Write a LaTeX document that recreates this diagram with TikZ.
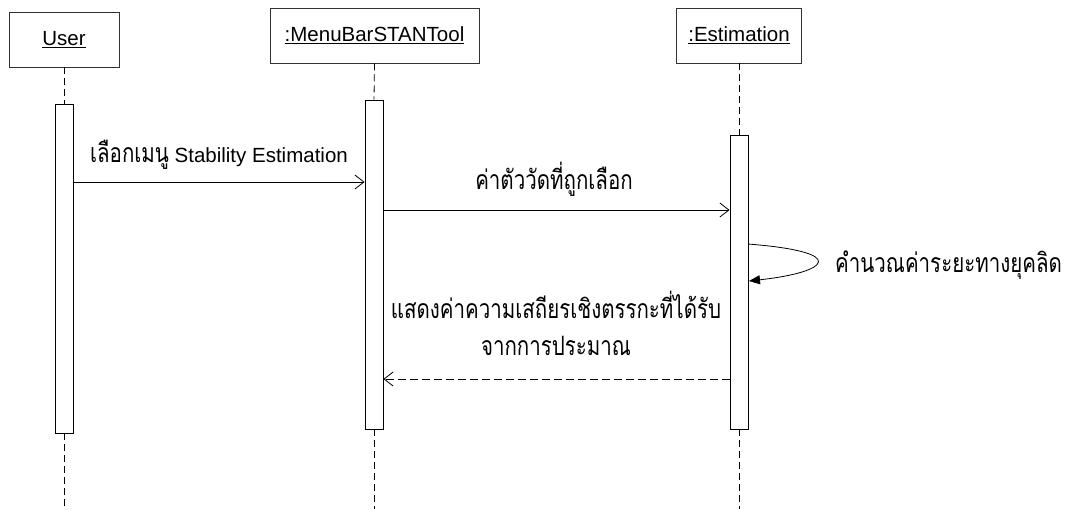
\documentclass[tikz,border=0pt]{standalone}
\usepackage{fontspec}
\setmainfont{Liberation Sans}
\newfontfamily\thai[Script=Thai]{Loma}
\newcommand{\thaitall}[1]{\scalebox{1}[1.3]{\thai #1}}
\usetikzlibrary{arrows.meta}
\begin{document}
\begin{tikzpicture}[x=1pt,y=-1pt,
  objbox/.style={draw=black!80,line width=0.9pt,fill=white,inner sep=0pt,font=\fontsize{20.5}{24}\selectfont},
  actbar/.style={draw,line width=0.9pt,fill=white,inner sep=0pt,minimum width=18pt},
  lifeline/.style={line width=0.8pt,dash pattern=on 7pt off 4pt},
  msg/.style={line width=0.8pt,-{Straight Barb[length=9pt,width=14pt,line width=0.8pt]}},
  retmsg/.style={msg,dash pattern=on 8pt off 4pt},
  selfmsg/.style={line width=0.8pt,-{Triangle[length=11pt,width=9pt]}},
  lbl/.style={inner sep=0pt,anchor=base,font=\fontsize{20.5}{24}\selectfont},
  thlbl/.style={inner sep=0pt,anchor=base,font=\thai\fontsize{20.5}{24}\selectfont}]
\useasboundingbox (0,0) rectangle (1071,509);
% objects
\node[objbox,minimum width=110pt,minimum height=55pt] (user) at (64,39.5) {\underline{User}};
\node[objbox,minimum width=209pt,minimum height=55pt] (menu) at (374.5,35.5) {\underline{:MenuBarSTANTool}};
\node[objbox,minimum width=125pt,minimum height=55pt] (est) at (739,35.5) {\underline{:Estimation}};
% activation bars
\node[actbar,minimum height=329pt] (ua) at (64,268.5) {};
\node[actbar,minimum height=329pt] (ma) at (374,264.5) {};
\node[actbar,minimum height=294pt] (ea) at (739,282) {};
% lifelines
\coordinate (uend) at (64,509);
\coordinate (mend) at (374,509);
\coordinate (eend) at (739,509);
\draw[lifeline] (user.south) -- (ua.north);
\draw[lifeline] (ua.south) -- (uend);
\draw[lifeline] (menu.south) -- (ma.north);
\draw[lifeline] (ma.south) -- (mend);
\draw[lifeline] (est.south) -- (ea.north);
\draw[lifeline] (ea.south) -- (eend);
% messages
\coordinate (y1) at (0,182);
\coordinate (y2) at (0,210);
\coordinate (y3) at (0,379);
\draw[msg] (ua.east |- y1) -- (ma.west |- y1);
\node[lbl] (l1) at (219,162) {\thaitall{เลือกเมนู} Stability Estimation};
\draw[msg] (ma.east |- y2) -- (ea.west |- y2);
\node[thlbl] (l2) at (554,189) {\thaitall{ค่าตัววัดที่ถูกเลือก}};
\coordinate (s1) at (748,244);
\coordinate (s2) at (749,281);
\draw[selfmsg] (s1) .. controls (850,252) and (830,272) .. (s2);
\node[thlbl,anchor=base west] (l3) at (835,272) {\thaitall{คำนวณค่าระยะทางยุคลิด}};
\draw[retmsg] (ea.west |- y3) -- (ma.east |- y3);
\node[thlbl] (l4) at (556,318) {\thaitall{แสดงค่าความเสถียรเชิงตรรกะที่ได้รับ}};
\node[thlbl] (l5) at (556,355) {\thaitall{จากการประมาณ}};
\end{tikzpicture}
\end{document}
